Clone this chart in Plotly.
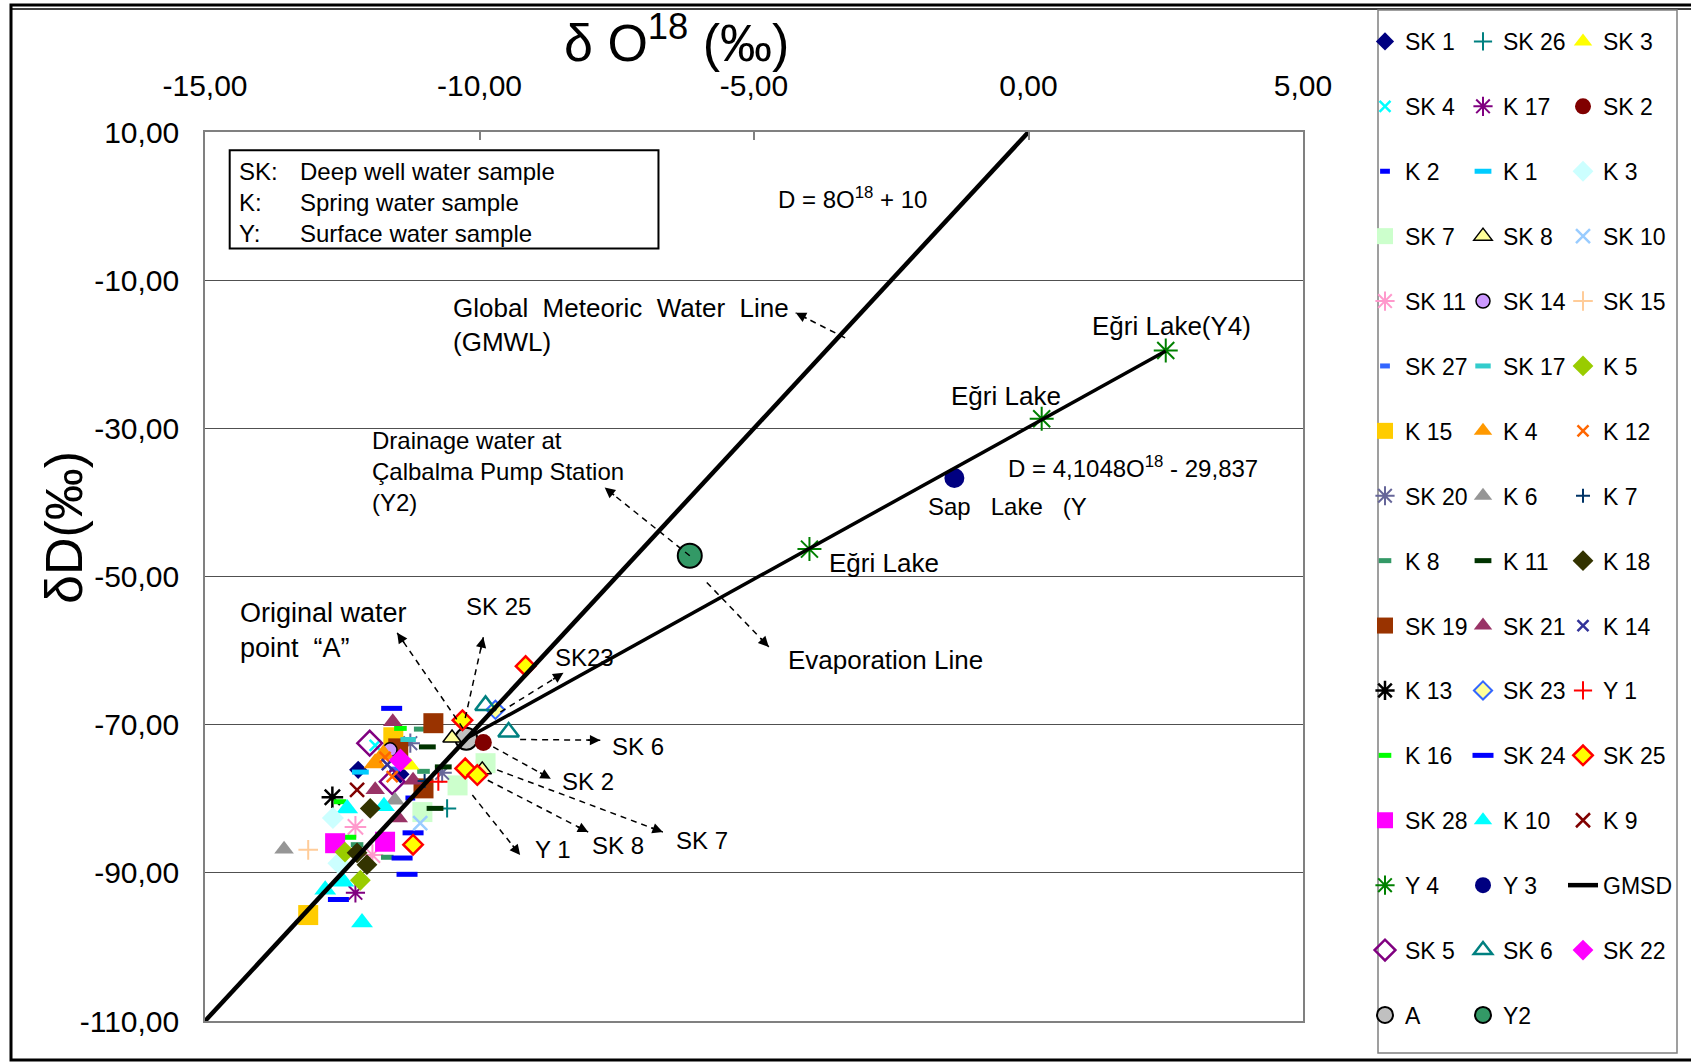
import numpy as np
import plotly.graph_objects as go

W, H = 1691, 1062
FONT = "Liberation Sans, Arial, Helvetica, sans-serif"

# ---------------- axes / ticks ----------------
X_RANGE = [-15, 5]
Y_RANGE = [-110, 10]
X_TICKS = [-15, -10, -5, 0, 5]
X_TICKTEXT = ["-15,00", "-10,00", "-5,00", "0,00", "5,00"]
Y_TICKS = [10, -10, -30, -50, -70, -90, -110]
Y_TICKTEXT = ["10,00", "-10,00", "-30,00", "-50,00", "-70,00", "-90,00", "-110,00"]

# ---------------- data (delta O18, delta D) ----------------
SK1_X = [-12.21, -11.44];  SK1_Y = [-76.1, -76.7]
SK26_X = [-10.59];         SK26_Y = [-81.3]
SK3_X = [-11.26];          SK3_Y = [-75.5]
SK4_X = [-11.90];          SK4_Y = [-72.8]
K17_X = [-12.26];          K17_Y = [-92.7]
SK2_X = [-9.93];           SK2_Y = [-72.4]
K2_X = [-11.26];           K2_Y = [-79.9]
K1_X = [-12.17];           K1_Y = [-76.4]
K3_X = [-12.67, -12.57];   K3_Y = [-82.6, -88.7]
SK7_X = [-9.89, -10.40, -11.04];  SK7_Y = [-75.2, -78.2, -81.8]
SK8_X = [-10.50, -9.95];   SK8_Y = [-71.8, -76.1]
SK10_X = [-11.08];         SK10_Y = [-83.3]
SK11_X = [-12.26, -11.95]; SK11_Y = [-83.8, -87.6]
SK14_X = [-11.63];         SK14_Y = [-73.4]
SK15_X = [-13.12];         SK15_Y = [-86.9]
SK27_X = [-11.55];         SK27_Y = [-76.0]
SK17_X = [-11.30];         SK17_Y = [-72.0]
K5_X = [-12.45, -12.17];   K5_Y = [-87.2, -91.0]
K15_X = [-11.57, -13.12];  K15_Y = [-71.7, -95.7]
K4_X = [-11.90, -11.75];   K4_Y = [-75.2, -74.0]
K12_X = [-11.72, -11.59];  K12_Y = [-74.4, -77.0]
SK20_X = [-11.26, -10.68]; SK20_Y = [-72.5, -76.5]
K6_X = [-13.56, -11.54];   K6_Y = [-86.8, -80.2]
K7_X = [-11.00];           K7_Y = [-77.6]
K8_X = [-11.08, -11.02, -12.23, -11.68];  K8_Y = [-70.6, -76.3, -86.2, -87.9]
K11_X = [-10.95, -10.66, -10.81];         K11_Y = [-73.0, -75.7, -81.3]
K18_X = [-11.99, -12.23, -12.05];         K18_Y = [-81.3, -87.3, -88.9]
SK19_X = [-10.84, -11.48, -11.02];        SK19_Y = [-69.8, -73.2, -78.6]
SK21_X = [-11.58, -11.21, -11.90, -11.48]; SK21_Y = [-69.6, -77.5, -78.8, -82.6]
K14_X = [-11.68];          K14_Y = [-75.4]
K13_X = [-12.68];          K13_Y = [-79.8]
SK23_X = [-9.71];          SK23_Y = [-68.0]
Y1_X = [-10.75];           Y1_Y = [-77.7]
K16_X = [-11.44, -12.54, -12.36];         K16_Y = [-70.5, -80.4, -85.2]
SK24_X = [-11.60, -11.21, -11.41, -11.32, -12.57]; SK24_Y = [-67.8, -84.6, -88.0, -90.2, -93.6]
SK25_X = [-9.16, -10.31, -10.26, -10.04, -11.21];  SK25_Y = [-62.1, -69.4, -75.9, -76.8, -86.2]
SK28_X = [-12.63, -11.72]; SK28_Y = [-86.0, -85.8]
K10_X = [-12.41, -11.74, -12.48, -12.81, -12.14];  K10_Y = [-81.3, -81.0, -91.2, -92.3, -96.7]
K9_X = [-12.23];           K9_Y = [-78.8]
Y4_X = [2.50, 0.24, -3.99];  Y4_Y = [-19.5, -28.7, -46.3]
Y3_X = [-1.35];            Y3_Y = [-36.7]
SK5_X = [-12.00, -11.59];  SK5_Y = [-72.5, -77.7]
SK6_X = [-9.89, -9.47];    SK6_Y = [-67.4, -71.0]
SK22_X = [-11.44];         SK22_Y = [-74.8]
A_X = [-10.24];            A_Y = [-71.9]
Y2_X = [-6.17];            Y2_Y = [-47.2]
# lines
GMSD_X = [-15.0, 0.0];     GMSD_Y = [-110.0, 10.0]
EVAP_X = [-10.24, 2.50];   EVAP_Y = [-71.87, -19.57]

SERIES = {
    "SK 1": (SK1_X, SK1_Y), "SK 26": (SK26_X, SK26_Y), "SK 3": (SK3_X, SK3_Y),
    "SK 4": (SK4_X, SK4_Y), "K 17": (K17_X, K17_Y), "SK 2": (SK2_X, SK2_Y),
    "K 2": (K2_X, K2_Y), "K 1": (K1_X, K1_Y), "K 3": (K3_X, K3_Y),
    "SK 7": (SK7_X, SK7_Y), "SK 8": (SK8_X, SK8_Y), "SK 10": (SK10_X, SK10_Y),
    "SK 11": (SK11_X, SK11_Y), "SK 14": (SK14_X, SK14_Y), "SK 15": (SK15_X, SK15_Y),
    "SK 27": (SK27_X, SK27_Y), "SK 17": (SK17_X, SK17_Y), "K 5": (K5_X, K5_Y),
    "K 15": (K15_X, K15_Y), "K 4": (K4_X, K4_Y), "K 12": (K12_X, K12_Y),
    "SK 20": (SK20_X, SK20_Y), "K 6": (K6_X, K6_Y), "K 7": (K7_X, K7_Y),
    "K 8": (K8_X, K8_Y), "K 11": (K11_X, K11_Y), "K 18": (K18_X, K18_Y),
    "SK 19": (SK19_X, SK19_Y), "SK 21": (SK21_X, SK21_Y), "K 14": (K14_X, K14_Y),
    "K 13": (K13_X, K13_Y), "SK 23": (SK23_X, SK23_Y), "Y 1": (Y1_X, Y1_Y),
    "K 16": (K16_X, K16_Y), "SK 24": (SK24_X, SK24_Y), "SK 25": (SK25_X, SK25_Y),
    "SK 28": (SK28_X, SK28_Y), "K 10": (K10_X, K10_Y), "K 9": (K9_X, K9_Y),
    "Y 4": (Y4_X, Y4_Y), "Y 3": (Y3_X, Y3_Y),
    "SK 5": (SK5_X, SK5_Y), "SK 6": (SK6_X, SK6_Y), "SK 22": (SK22_X, SK22_Y),
    "A": (A_X, A_Y), "Y2": (Y2_X, Y2_Y),
}

# legend layout (3 columns, row order)
LEGEND_COL1 = ["SK 1", "SK 4", "K 2", "SK 7", "SK 11", "SK 27", "K 15", "SK 20",
               "K 8", "SK 19", "K 13", "K 16", "SK 28", "Y 4", "SK 5", "A"]
LEGEND_COL2 = ["SK 26", "K 17", "K 1", "SK 8", "SK 14", "SK 17", "K 4", "K 6",
               "K 11", "SK 21", "SK 23", "SK 24", "K 10", "Y 3", "SK 6", "Y2"]
LEGEND_COL3 = ["SK 3", "SK 2", "K 3", "SK 10", "SK 15", "K 5", "K 12", "K 7",
               "K 18", "K 14", "Y 1", "SK 25", "K 9", "GMSD", "SK 22"]

# ---------------- styles: symbol, size, fill colour, line colour, line width ----------------
STYLE = {
    "SK 1": ("diamond", 14, "#000080", "#000080", 0),
    "SK 26": ("cross-thin", 13, "#008080", "#008080", 2),
    "SK 3": ("triangle-up", 16, "#FFFF00", "#FFFF00", 0),
    "SK 4": ("x-thin", 11, "#00FFFF", "#00FFFF", 2.5),
    "K 17": ("asterisk", 16, "#800080", "#800080", 2),
    "SK 2": ("circle", 17, "#800000", "#800000", 0),
    "K 2": ("line-ew", 7, "#0000FF", "#0000FF", 5),
    "K 1": ("line-ew", 12, "#00CCFF", "#00CCFF", 5),
    "K 3": ("diamond", 17, "#CCFFFF", "#CCFFFF", 0),
    "SK 7": ("square", 20, "#CCFFCC", "#CCFFCC", 0),
    "SK 8": ("triangle-up", 16, "#FFFF99", "#000000", 1.5),
    "SK 10": ("x-thin", 14, "#99CCFF", "#99CCFF", 2.5),
    "SK 11": ("asterisk", 18, "#FF99CC", "#FF99CC", 2),
    "SK 14": ("circle", 14, "#CC99FF", "#000000", 1.5),
    "SK 15": ("cross-thin", 14, "#FFCC99", "#FFCC99", 2),
    "SK 27": ("line-ew", 7, "#3366FF", "#3366FF", 5),
    "SK 17": ("line-ew", 11, "#33CCCC", "#33CCCC", 5),
    "K 5": ("diamond", 16, "#99CC00", "#99CC00", 0),
    "K 15": ("square", 20, "#FFCC00", "#FFCC00", 0),
    "K 4": ("triangle-up", 20, "#FF9900", "#FF9900", 0),
    "K 12": ("x-thin", 11, "#FF6600", "#FF6600", 2.5),
    "SK 20": ("asterisk", 16, "#666699", "#666699", 2),
    "K 6": ("triangle-up", 17, "#969696", "#969696", 0),
    "K 7": ("cross-thin", 10, "#003366", "#003366", 2),
    "K 8": ("line-ew", 9, "#339966", "#339966", 5),
    "K 11": ("line-ew", 12, "#003300", "#003300", 5),
    "K 18": ("diamond", 16, "#333300", "#333300", 0),
    "SK 19": ("square", 20, "#993300", "#993300", 0),
    "SK 21": ("triangle-up", 17, "#993366", "#993366", 0),
    "K 14": ("x-thin", 11, "#333399", "#333399", 2.5),
    "K 13": ("asterisk", 18, "#000000", "#000000", 2.5),
    "SK 23": ("diamond", 14, "#FFFF99", "#3366FF", 2),
    "Y 1": ("cross-thin", 13, "#FF0000", "#FF0000", 2),
    "K 16": ("line-ew", 9, "#00FF00", "#00FF00", 5),
    "SK 24": ("line-ew", 15, "#0000FF", "#0000FF", 5),
    "SK 25": ("diamond", 15, "#FFFF00", "#FF0000", 2.5),
    "SK 28": ("square", 20, "#FF00FF", "#FF00FF", 0),
    "K 10": ("triangle-up", 19, "#00FFFF", "#00FFFF", 0),
    "K 9": ("x-thin", 14, "#800000", "#800000", 2.5),
    "Y 4": ("asterisk", 20, "#008000", "#008000", 2),
    "Y 3": ("circle", 20, "#000080", "#000080", 0),
    "SK 5": ("diamond-open", 19, "#800080", "#800080", 2.5),
    "SK 6": ("triangle-up-open", 18, "#008080", "#008080", 2.5),
    "SK 22": ("diamond", 18, "#FF00FF", "#FF00FF", 0),
    "A": ("circle", 22, "#C0C0C0", "#000000", 2),
    "Y2": ("circle", 24, "#339966", "#000000", 2),
}

# ---------------- geometry ----------------
X_DOMAIN = [205 / W, 1303 / W]
Y_DOMAIN = [(H - 1021) / H, (H - 132) / H]
XPX = (X_DOMAIN[1] - X_DOMAIN[0]) * W / (X_RANGE[1] - X_RANGE[0])
YPX = (Y_DOMAIN[1] - Y_DOMAIN[0]) * H / (Y_RANGE[1] - Y_RANGE[0])

fig = go.Figure()

legend_of = {}
for lg, col in (("legend", LEGEND_COL1), ("legend2", LEGEND_COL2), ("legend3", LEGEND_COL3)):
    for rank, name in enumerate(col):
        legend_of[name] = (lg, rank)

# markers (drawn in legend row order)
for name in LEGEND_COL1 + LEGEND_COL2 + LEGEND_COL3:
    if name == "GMSD":
        continue
    xs, ys = SERIES[name]
    sym, size, fc, lc, lw = STYLE[name]
    lg, rank = legend_of[name]
    fig.add_trace(go.Scatter(
        x=xs, y=ys, mode="markers", name=name,
        marker=dict(symbol=sym, size=size, color=fc, line=dict(color=lc, width=lw)),
        legend=lg, legendgroup=name, legendrank=rank + 1, showlegend=True,
        cliponaxis=False,
    ))

# lines on top
lg, rank = legend_of["GMSD"]
fig.add_trace(go.Scatter(x=GMSD_X, y=GMSD_Y, mode="lines", name="GMSD",
                         line=dict(color="black", width=4.5),
                         legend=lg, legendgroup="GMSD", legendrank=rank + 1))
fig.add_trace(go.Scatter(x=EVAP_X, y=EVAP_Y, mode="lines", name="Evaporation Line",
                         line=dict(color="black", width=3.5), showlegend=False))

# ---------------- text annotations (data coords) ----------------
TEXTS = [
    ("D = 8O<sup>18</sup> + 10", -3.2, 1.1, "center", 24),
    ("Global  Meteoric  Water  Line<br>(GMWL)", -10.52, -16.1, "left", 26),
    ("Eğri Lake(Y4)", 2.60, -16.2, "center", 26),
    ("Eğri Lake", -0.41, -25.6, "center", 26),
    ("D = 4,1048O<sup>18</sup> - 29,837", -0.41, -35.2, "left", 24),
    ("Sap   Lake   (Y", -1.86, -40.5, "left", 24),
    ("Eğri Lake", -3.67, -48.2, "left", 26),
    ("Evaporation Line", -4.42, -61.3, "left", 26),
    ("Drainage water at<br>Çalbalma Pump Station<br>(Y2)", -11.99, -35.8, "left", 24),
    ("Original water<br>point  “A”", -14.39, -57.3, "left", 27),
    ("SK 25", -9.65, -54.1, "center", 24),
    ("SK23", -8.67, -61.0, "left", 24),
    ("SK 6", -7.63, -72.9, "left", 24),
    ("SK 2", -8.53, -77.7, "left", 24),
    ("SK 7", -6.45, -85.7, "left", 24),
    ("SK 8", -7.98, -86.3, "left", 24),
    ("Y 1", -9.02, -86.9, "left", 24),
    ("SK:<br>K:<br>Y:", -14.41, 0.55, "left", 24),
    ("Deep well water sample<br>Spring water sample<br>Surface water sample", -13.3, 0.55, "left", 24),
]
for txt, x, y, anchor, fs in TEXTS:
    fig.add_annotation(x=x, y=y, xref="x", yref="y", text=txt, showarrow=False,
                       xanchor=anchor, yanchor="middle", align="left",
                       font=dict(family=FONT, size=fs, color="black"))

# ---------------- dashed arrows (start -> end, data coords) ----------------
ARROWS = [
    (-3.34, -17.8, -4.24, -14.4),   # GMWL
    (-6.17, -47.2, -7.72, -38.0),   # drainage
    (-5.86, -50.8, -4.73, -59.5),   # evaporation line
    (-10.30, -70.5, -11.50, -57.6), # original point A
    (-10.26, -69.1, -9.93, -58.2),  # SK 25
    (-9.62, -68.3, -8.47, -63.0),   # SK23
    (-9.26, -72.0, -7.80, -72.1),   # SK 6
    (-9.75, -73.0, -8.70, -77.3),   # SK 2
    (-9.68, -76.1, -6.66, -84.5),   # SK 7
    (-9.85, -77.5, -8.02, -84.5),   # SK 8
    (-10.13, -79.5, -9.26, -87.6),  # Y 1
]
for xs, ys, xe, ye in ARROWS:
    fig.add_shape(type="line", xref="x", yref="y", x0=xs, y0=ys, x1=xe, y1=ye,
                  line=dict(color="black", width=1.5, dash="6px,5px"))
    dx = (xs - xe) * XPX
    dy = -(ys - ye) * YPX
    n = float(np.hypot(dx, dy))
    fig.add_annotation(x=xe, y=ye, xref="x", yref="y", ax=dx / n * 14, ay=dy / n * 14,
                       text="", showarrow=True, arrowhead=2, arrowsize=1.3,
                       arrowwidth=1.6, arrowcolor="black")

# info box around sample-type text
fig.add_shape(type="rect", xref="x", yref="y", x0=-14.55, x1=-6.74, y0=7.53, y1=-5.71,
              line=dict(color="black", width=2), fillcolor="rgba(0,0,0,0)", layer="below")

# ---------------- frame and legend box (paper coords = pixels) ----------------
def px(xp):
    return xp / W

def py(yp):
    return 1 - yp / H

fig.add_shape(type="rect", xref="paper", yref="paper", x0=px(11), x1=px(1700), y0=py(1060), y1=py(5),
              line=dict(color="black", width=3))
fig.add_shape(type="line", xref="paper", yref="paper", x0=px(11), x1=px(1700), y0=py(9), y1=py(9),
              line=dict(color="black", width=1.5))
fig.add_shape(type="rect", xref="paper", yref="paper", x0=px(1378), x1=px(1677), y0=py(1053), y1=py(10),
              line=dict(color="#808080", width=1.5))

# ---------------- titles ----------------
fig.add_annotation(xref="paper", yref="paper", x=px(676), y=py(39), text="δ O<sup>18</sup> (‰)",
                   showarrow=False, xanchor="center", yanchor="middle",
                   font=dict(family=FONT, size=52, color="black"))
fig.add_annotation(xref="paper", yref="paper", x=px(64), y=py(528), text="δD(‰)", textangle=-90,
                   showarrow=False, xanchor="center", yanchor="middle",
                   font=dict(family=FONT, size=52, color="black"))

legend_common = dict(bgcolor="rgba(0,0,0,0)", borderwidth=0,
                     font=dict(family=FONT, size=23, color="black"),
                     tracegroupgap=32, xanchor="left", yanchor="top", y=py(20),
                     orientation="v", traceorder="grouped", itemsizing="trace")

fig.update_layout(
    width=W, height=H,
    margin=dict(l=0, r=0, t=0, b=0, pad=0, autoexpand=False),
    paper_bgcolor="white", plot_bgcolor="white",
    font=dict(family=FONT, color="black"),
    xaxis=dict(domain=X_DOMAIN, range=X_RANGE, side="top", tickvals=X_TICKS, ticktext=X_TICKTEXT,
               ticks="inside", ticklen=8, tickwidth=1.5, tickcolor="#808080",
               showline=True, linecolor="#808080", linewidth=1.5, mirror=True,
               showgrid=False, zeroline=False, ticklabelstandoff=22, automargin=False,
               tickfont=dict(family=FONT, size=30, color="black")),
    yaxis=dict(domain=Y_DOMAIN, range=Y_RANGE, tickvals=Y_TICKS, ticktext=Y_TICKTEXT,
               ticks="", showline=True, linecolor="#808080", linewidth=1.5, mirror=True,
               showgrid=True, gridcolor="#505050", gridwidth=1, zeroline=False, automargin=False,
               ticklabelstandoff=18, tickfont=dict(family=FONT, size=30, color="black")),
    legend=dict(x=px(1365), **legend_common),
    legend2=dict(x=px(1463), **legend_common),
    legend3=dict(x=px(1563), **legend_common),
    showlegend=True,
)

# remove the browser's default page margin so the figure starts at the window's corner
fig.write_html("out.html",
               config={"displayModeBar": False},
               post_script="document.body.style.margin='0';document.body.style.overflow='hidden';")
